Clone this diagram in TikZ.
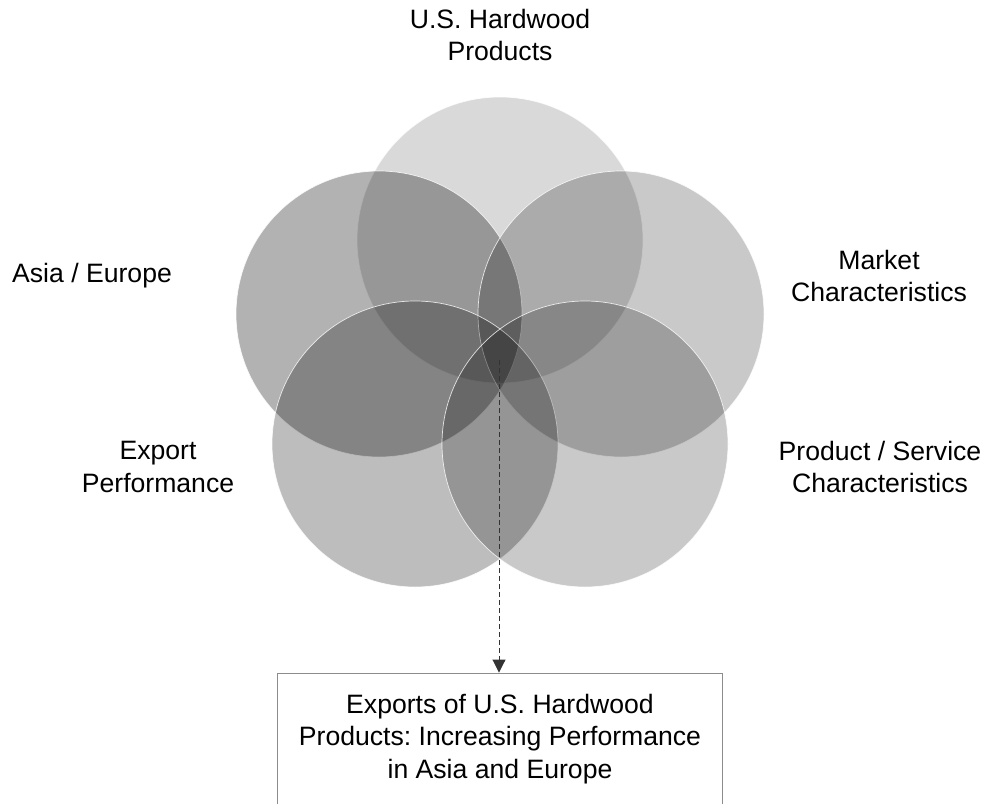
\documentclass[tikz,border=0pt]{standalone}
\usepackage{fontspec}
\setmainfont{Liberation Sans}
\usetikzlibrary{arrows.meta}
\frenchspacing
\begin{document}
\begin{tikzpicture}[x=1pt,y=-1pt,
  disc/.style={circle, inner sep=0pt, minimum size=286pt, fill=black,
    draw=white, draw opacity=0.8, line width=0.7pt},
  label/.style={align=center, inner sep=0pt,
    font=\fontsize{26.6}{32.5}\selectfont},
  outcome/.style={draw=black!45, line width=0.9pt, align=center,
    minimum width=445pt, minimum height=132pt, inner sep=0pt,
    font=\fontsize{26.6}{32.5}\selectfont},
  link/.style={dashed, dash pattern=on 5pt off 3pt, line width=0.9pt,
    draw=black!80, -{Triangle[width=13pt,length=13pt]}}]
  \useasboundingbox (0,0) rectangle (990,803);
  \clip (0,0) rectangle (990,803);

  % five overlapping factor circles (darkening fills multiply where they overlap)
  \node[disc, fill opacity=0.15] (products) at (500,240) {};
  \node[disc, fill opacity=0.30] (region)   at (379,314) {};
  \node[disc, fill opacity=0.21] (market)   at (621,314) {};
  \node[disc, fill opacity=0.26] (export)   at (415,444) {};
  \node[disc, fill opacity=0.21] (service)  at (585,444) {};

  % circle captions
  \node[label] (lproducts) at (500,35)  {U.S. Hardwood\\Products};
  \node[label, anchor=west] (lregion) at (12,276) {Asia / Europe};
  \node[label] (lmarket)  at (879,276) {Market\\Characteristics};
  \node[label] (lexport)  at (158,467) {Export\\Performance};
  \node[label] (lservice) at (880,467) {Product / Service\\Characteristics};

  % outcome box and the link from the common intersection
  \node[outcome] (result) at (500,739)
    {\raisebox{-3pt}{\parbox{445pt}{\centering Exports of U.S. Hardwood\\Products: Increasing Performance\\in Asia and Europe}}};
  \coordinate (hub) at (499,360);
  \draw[link] (hub) -- (hub |- result.north);
\end{tikzpicture}
\end{document}
